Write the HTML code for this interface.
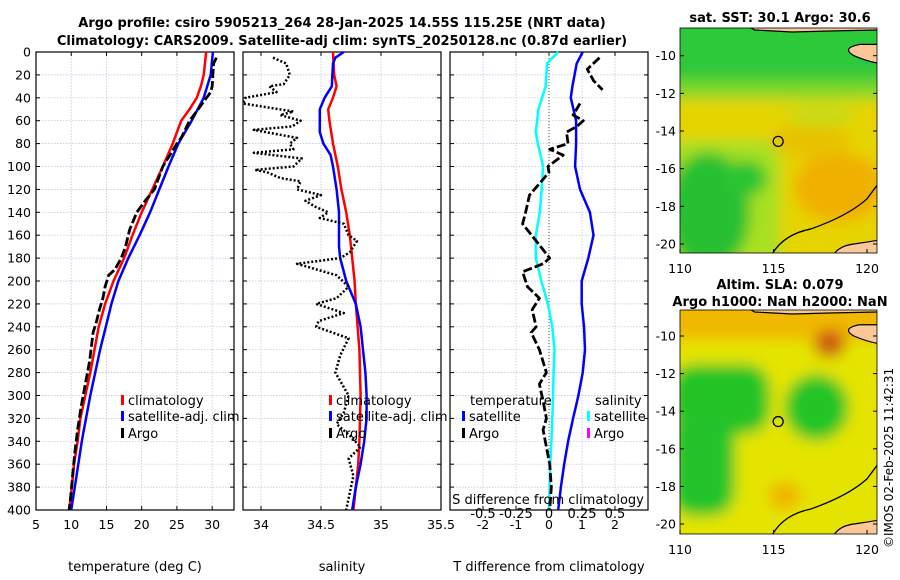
<!DOCTYPE html>
<html><head><meta charset="utf-8"><style>
body{margin:0;background:#fff}
svg{display:block;font-family:"DejaVu Sans","Liberation Sans",sans-serif}
</style></head><body>
<svg id="c" width="900" height="580" viewBox="0 0 900 580">
<defs>
<filter id="bl" x="-20%" y="-20%" width="140%" height="140%"><feGaussianBlur stdDeviation="7"/></filter>
<clipPath id="m1"><rect x="680" y="28" width="197" height="225"/></clipPath>
<clipPath id="m2"><rect x="680" y="310" width="197" height="224"/></clipPath>
</defs>
<text x="342" y="27" text-anchor="middle" font-size="13" font-weight="bold">Argo profile: csiro 5905213_264 28-Jan-2025 14.55S 115.25E (NRT data)</text>
<text x="342" y="45" text-anchor="middle" font-size="13" font-weight="bold">Climatology: CARS2009. Satellite-adj clim: synTS_20250128.nc (0.87d earlier)</text>
<text x="780" y="22" text-anchor="middle" font-size="13" font-weight="bold">sat. SST: 30.1 Argo: 30.6</text>
<text x="780" y="289" text-anchor="middle" font-size="13" font-weight="bold">Altim. SLA: 0.079</text>
<text x="780" y="306" text-anchor="middle" font-size="13" font-weight="bold">Argo h1000: NaN h2000: NaN</text>
<text transform="translate(893,548) rotate(-90)" font-size="12">©IMOS 02-Feb-2025 11:42:31</text>
<g id="plots"></g>
<g id="maps"></g>
</svg>
<script>
// depth levels (m)
const depthT=[0,20,30,40,50,60,80,100,120,140,160,180,200,220,240,260,280,300,320,340,360,380,400];
const climT=[29.15,28.8,28.4,27.8,26.8,25.6,24.4,23,21.5,20,18.7,17.5,16,14.8,13.9,13.3,12.7,12,11.3,10.9,10.4,10.1,9.7];
const depthSatT=[0,20,40,60,80,100,120,140,160,180,200,220,240,260,280,300,320,340,360,380,400];
const satT=[30.1,29.8,28.8,27.1,25.2,23.8,22.5,21.2,19.7,18.1,16.7,15.7,14.9,14.1,13.4,12.7,12.1,11.5,11,10.5,10];
const depthArgoT=[5,10,30,35,40,50,60,75,80,90,100,120,130,140,155,170,180,190,195,205,215,225,235,245,255,270,290,310,330,350,370,390,400];
const argoT=[30.6,30.2,30,29.8,29.2,28,26.8,25.6,25,24,23,21.8,20.5,19.3,18.3,17.7,17.1,16.2,15.3,14.8,14.5,14,13.6,13.1,12.9,12.6,12,11.4,10.9,10.5,10.2,9.9,9.7];
const depthClimS=[0,20,30,40,50,60,80,100,120,140,160,180,200,220,260,300,340,360,380,400];
const climS=[34.6,34.61,34.63,34.6,34.56,34.57,34.6,34.64,34.67,34.71,34.74,34.76,34.78,34.79,34.82,34.83,34.82,34.81,34.79,34.77];
const depthSatS=[0,5,10,30,40,50,60,70,80,90,100,120,140,170,180,200,220,240,260,280,300,320,340,360,380,400];
const satS=[34.69,34.62,34.6,34.59,34.53,34.49,34.49,34.49,34.52,34.58,34.6,34.63,34.65,34.65,34.66,34.71,34.79,34.83,34.85,34.87,34.88,34.88,34.86,34.83,34.79,34.76];
const depthArgoS=[5,10,20,28,30,35,40,45,52,55,60,65,68,75,80,85,88,93,100,103,105,110,113,120,125,130,135,140,145,150,160,165,175,180,185,195,205,215,220,228,235,240,250,265,280,300,315,325,335,345,355,370,385,400];
const argoS=[34.1,34.21,34.24,34.19,34.07,34.13,33.87,33.85,34.27,34.16,34.33,34.26,33.94,34.3,34.24,34.27,33.94,34.34,34.27,33.95,34.05,34.16,34.33,34.3,34.5,34.37,34.45,34.56,34.49,34.69,34.73,34.8,34.74,34.66,34.3,34.63,34.73,34.63,34.46,34.69,34.48,34.46,34.73,34.66,34.62,34.73,34.69,34.63,34.74,34.83,34.73,34.77,34.74,34.71];
const depthDT=[0,10,30,40,60,80,100,120,140,160,180,200,220,240,260,280,300,320,340,360,380,400];
const satDT=[1.02,0.84,0.71,0.66,0.82,0.82,0.79,0.94,1.24,1.35,1.19,0.99,0.99,1.06,1.09,1.02,0.89,0.73,0.58,0.46,0.36,0.28];
const depthDS=[0,10,30,50,70,80,100,120,140,160,180,200,220,240,260,280,300,320,340,360,380,400];
const satDS=[0.07,-0.015,-0.025,-0.08,-0.1,-0.085,-0.045,-0.055,-0.07,-0.1,-0.1,-0.058,-0.008,0.025,0.042,0.035,0.03,0.025,0.018,0.01,0.005,0];
const depthArgoDT1=[5,15,25,33];
const argoDT1=[1.53,1.16,1.35,1.62];
const depthArgoDT=[45,55,60,65,70,80,85,90,100,105,115,125,140,150,165,180,185,192,205,215,225,240,245,260,280,290,305,320,330,345,360,380,400];
const argoDT=[0.94,0.73,1.04,0.85,0.53,0.58,0.02,0.43,-0.03,0,-0.29,-0.59,-0.71,-0.8,-0.39,0.02,-0.18,-0.8,-0.65,-0.29,-0.51,-0.39,-0.54,-0.29,-0.08,-0.29,-0.18,-0.08,-0.18,-0.08,0.02,0.07,0.02];
const depthTicks=[0,20,40,60,80,100,120,140,160,180,200,220,240,260,280,300,320,340,360,380,400];
const tTicks=[5,10,15,20,25,30];
const sTicks=[34,34.5,35,35.5];
const dTicks=[-3,-2,-1,0,1,2];
const dTickLabels=["","-2","-1","0","1","2"];
const sdTicks=[-0.5,-0.25,0,0.25,0.5];
const latTicks=[-10,-12,-14,-16,-18,-20];
const lonTicks=[110,115,120];

const NS='http://www.w3.org/2000/svg';
function mk(p,t,a){const e=document.createElementNS(NS,t);for(const k in a)e.setAttribute(k,a[k]);p.appendChild(e);return e;}
const G=document.getElementById('plots');
const Y0=52,Y1=510;
const yD=d=>Y0+(d/400)*(Y1-Y0);
function panel(x0,x1,lo,hi){return v=>x0+(v-lo)/(hi-lo)*(x1-x0);}
const xT=panel(36,234,5,33.1);
const xS=panel(243,441,33.85,35.5);
const xD=panel(450,648,-3,3);
const xSD=v=>xD(v*4);
function frame(x0,x1,ticks,xs,labels,name,ylab){
  const g=mk(G,'g',{});
  
  
  for(const d of depthTicks){
    const l=mk(g,'line',{x1:x0,x2:x1,y1:yD(d),y2:yD(d),stroke:'#b8c0dc','stroke-width':0.7,'stroke-dasharray':'1.5,1.5'});
    
    
    mk(g,'line',{x1:x0,x2:x0+4,y1:yD(d),y2:yD(d),stroke:'#000'});
    mk(g,'line',{x1:x1,x2:x1-4,y1:yD(d),y2:yD(d),stroke:'#000'});
    if(ylab){const t=mk(g,'text',{x:x0-5,y:yD(d)+4.5,'text-anchor':'end','font-size':12.5});t.textContent=d;
      
      }
  }
  ticks.forEach((v,i)=>{
    const x=xs(v);
    if(x>x0+1&&x<x1-1){mk(g,'line',{x1:x,x2:x,y1:Y0,y2:Y1,stroke:'#b8c0dc','stroke-width':0.7,'stroke-dasharray':'1.5,1.5'});}
    mk(g,'line',{x1:x,x2:x,y1:Y1,y2:Y1-4,stroke:'#000'});
    mk(g,'line',{x1:x,x2:x,y1:Y0,y2:Y0+4,stroke:'#000'});
    if(labels[i]!==""){const t=mk(g,'text',{x:x,y:Y1+19,'text-anchor':'middle','font-size':12.5});t.textContent=labels[i];
    
    }
  });
  mk(g,'rect',{x:x0,y:Y0,width:x1-x0,height:Y1-Y0,fill:'none',stroke:'#000','stroke-width':1.2});
}
frame(36,234,tTicks,xT,tTicks.map(String),'temperature-panel',true);
frame(243,441,sTicks,xS,sTicks.map(String),'salinity-panel',false);
frame(450,648,dTicks,xD,dTickLabels,'difference-panel',false);
function line(xs,vals,deps,col,w,dash,name){
  const pts=vals.map((v,i)=>xs(v).toFixed(1)+','+yD(deps[i]).toFixed(1)).join(' ');
  const a={points:pts,fill:'none',stroke:col,'stroke-width':w,'stroke-linejoin':'round'};
  if(dash)a['stroke-dasharray']=dash;
  const p=mk(G,'polyline',a);
  
  
}
const z=mk(G,'line',{x1:xD(0),x2:xD(0),y1:Y0,y2:Y1,stroke:'#555','stroke-width':1,'stroke-dasharray':'1,2'});


line(xT,climT,depthT,'#f00',2.5,null,'temperature-climatology-line');
line(xT,satT,depthSatT,'#00f',2.5,null,'temperature-satellite-line');
line(xT,argoT,depthArgoT,'#000',2.8,'9,3','temperature-argo-line');
line(xS,climS,depthClimS,'#f00',2.5,null,'salinity-climatology-line');
line(xS,satS,depthSatS,'#00f',2.5,null,'salinity-satellite-line');
line(xS,argoS,depthArgoS,'#000',2.5,'2,2','salinity-argo-line');
line(xD,satDT,depthDT,'#00f',2.5,null,'t-diff-satellite-line');
line(xSD,satDS,depthDS,'#0ff',2.5,null,'s-diff-satellite-line');
line(xD,argoDT1,depthArgoDT1,'#000',2.8,'9,3','t-diff-argo-line-top');
line(xD,argoDT,depthArgoDT,'#000',2.8,'9,3','t-diff-argo-line');
function leg(x,y,col,label,name){
  const g=mk(G,'g',{});
  
  
  mk(g,'rect',{x:x,y:y-10,width:3,height:10,fill:col});
  const t=mk(g,'text',{x:x+7,y:y,'font-size':13});t.textContent=label;
}
leg(121,405,'#f00','climatology','legend-temp-climatology');
leg(121,421,'#00f','satellite-adj. clim','legend-temp-satellite');
leg(121,438,'#000','Argo','legend-temp-argo');
leg(329,405,'#f00','climatology','legend-sal-climatology');
leg(329,421,'#00f','satellite-adj. clim','legend-sal-satellite');
leg(329,438,'#000','Argo','legend-sal-argo');
function txt(x,y,s,name,anchor){const t=mk(G,'text',{x:x,y:y,'font-size':13,'text-anchor':anchor||'start'});t.textContent=s;
  return t;}
txt(470,405,'temperature','legend-title-temperature');
txt(595,405,'salinity','legend-title-salinity');
leg(462,421,'#00f','satellite','legend-tdiff-satellite');
leg(462,438,'#000','Argo','legend-tdiff-argo');
leg(587,421,'#0ff','satellite','legend-sdiff-satellite');
leg(587,438,'#f0f','Argo','legend-sdiff-argo');
txt(548,504,'S difference from climatology','s-diff-axis-title','middle');
sdTicks.forEach(v=>{txt(xSD(v),518,String(v),'s-diff-tick-label','middle');});
txt(135,571,'temperature (deg C)','x-axis-title-temperature','middle');
txt(342,571,'salinity','x-axis-title-salinity','middle');
txt(549,571,'T difference from climatology','x-axis-title-tdiff','middle');

const M=document.getElementById('maps');
function map(top,bot,lat10,lat20,clip,kind,name){
  const g=mk(M,'g',{'clip-path':'url(#'+clip+')'});
  
  
  const lon=v=>680+(v-110)*18.7;
  const lat=v=>lat10+(v+10)/(-10)*(lat20-lat10);
  const bg=mk(g,'g',{filter:'url(#bl)'});
  if(kind==='sst'){
    mk(bg,'rect',{x:660,y:top-20,width:240,height:bot-top+40,fill:'#e6d400'});
    mk(bg,'rect',{x:660,y:lat(-14.5),width:120,height:120,fill:'#a8e020'});
    mk(bg,'rect',{x:660,y:top-20,width:240,height:lat(-12.3)-top+20,fill:'#7cd82a'});
    mk(bg,'rect',{x:660,y:top-20,width:240,height:lat(-11.3)-top+20,fill:'#2ec83a'});
    mk(bg,'ellipse',{cx:lon(111.5),cy:lat(-18.3),rx:42,ry:60,fill:'#26c030'});
    mk(bg,'ellipse',{cx:lon(113.5),cy:lat(-16.5),rx:22,ry:18,fill:'#2ac432'});
    mk(bg,'ellipse',{cx:lon(118.5),cy:lat(-17),rx:45,ry:35,fill:'#f0b000'});
    mk(bg,'ellipse',{cx:lon(117),cy:lat(-14.5),rx:40,ry:18,fill:'#e8c200'});
    mk(bg,'ellipse',{cx:lon(117.5),cy:lat(-13.2),rx:35,ry:10,fill:'#c6dc14'});
  }else{
    mk(bg,'rect',{x:660,y:top-20,width:240,height:bot-top+40,fill:'#e4e400'});
    mk(bg,'rect',{x:660,y:top-20,width:240,height:lat(-10.2)-top+20,fill:'#f0b800'});
    mk(bg,'ellipse',{cx:lon(118),cy:lat(-10.4),rx:16,ry:14,fill:'#cc5a10'});
    mk(bg,'rect',{x:670,y:lat(-11.5),width:100,height:70,rx:25,fill:'#22c428'});
    mk(bg,'rect',{x:670,y:lat(-14),width:65,height:105,rx:25,fill:'#24c42a'});
    mk(bg,'ellipse',{cx:lon(117.3),cy:lat(-13.8),rx:32,ry:33,fill:'#22c428'});
    mk(bg,'ellipse',{cx:lon(115.6),cy:lat(-18.5),rx:16,ry:14,fill:'#f0b400'});
  }
  mk(g,'path',{d:`M${lon(113.6)},${top-2} L${lon(120.6)},${top-2} L${lon(120.6)},${top+2} L${lon(118)},${top+3} L${lon(116)},${top+4} L${lon(114)},${top+2}Z`,fill:'#f9c896',stroke:'#000','stroke-width':1.2});
  mk(g,'path',{d:`M${lon(120.6)},${lat(-9.4)} L${lon(119.6)},${lat(-9.4)} Q${lon(118.6)},${lat(-9.6)} ${lon(119.3)},${lat(-10)} Q${lon(120)},${lat(-10.3)} ${lon(120.6)},${lat(-10.4)}Z`,fill:'#f9c896',stroke:'#000','stroke-width':1.2});
  mk(g,'path',{d:`M${lon(118.2)},${bot+2} Q${lon(118.5)},${lat(-20.1)} ${lon(119.3)},${lat(-20)} Q${lon(120)},${lat(-19.9)} ${lon(120.6)},${lat(-19.8)} L${lon(120.6)},${bot+2}Z`,fill:'#f9c896',stroke:'#000','stroke-width':1.2});
  mk(g,'path',{d:`M${lon(114.9)},${bot+2} Q${lon(115.5)},${lat(-19.5)} ${lon(117)},${lat(-19.2)} Q${lon(119)},${lat(-18.5)} ${lon(120)},${lat(-17.6)} L${lon(120.6)},${lat(-16.8)}`,fill:'none',stroke:'#000','stroke-width':1.3});
  mk(M,'rect',{x:680,y:top,width:197,height:bot-top,fill:'none',stroke:'#000','stroke-width':0.8});
  const c=mk(M,'circle',{cx:lon(115.25),cy:lat(-14.55),r:5,fill:'none',stroke:'#000','stroke-width':1.3});
  
  
  latTicks.forEach(v=>{const t=mk(M,'text',{x:676,y:lat(v)+4.5,'text-anchor':'end','font-size':12.5});t.textContent=v;
    
    mk(M,'line',{x1:680,x2:684,y1:lat(v),y2:lat(v),stroke:'#000'});mk(M,'line',{x1:877,x2:873,y1:lat(v),y2:lat(v),stroke:'#000'});});
  lonTicks.forEach(v=>{const t=mk(M,'text',{x:lon(v),y:bot+20,'text-anchor':'middle','font-size':12.5});t.textContent=v;
    
    mk(M,'line',{x1:lon(v),x2:lon(v),y1:bot,y2:bot-4,stroke:'#000'});});
}
map(28,253,55.7,244,'m1','sst','sst-map');
map(310,534,336,524,'m2','sla','sla-map');
</script>
</body></html>
